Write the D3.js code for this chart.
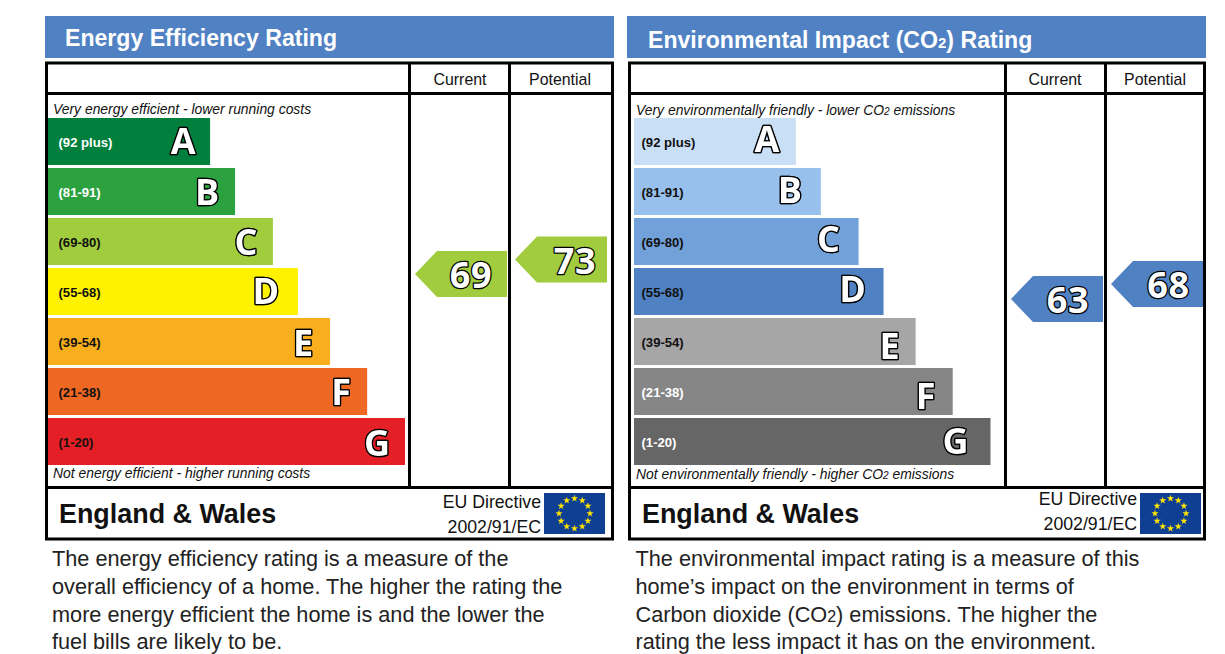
<!DOCTYPE html>
<html lang="en">
<head>
  <meta charset="UTF-8">
  <title>EPC Ratings</title>
  <script src="https://d3js.org/d3.v7.js"></script>
  <style>
    body { margin: 0; background: #fff; }
    svg { display: block; font-family: "Liberation Sans", Arial, sans-serif; }
    .letter, .score {
      font-family: "Open Sans", "DejaVu Sans", sans-serif;
      font-weight: bold;
      fill: #fff;
      stroke: #000;
      paint-order: stroke;
      stroke-linejoin: round;
    }
    .score { letter-spacing: 0.6px; }
    .letter { filter: drop-shadow(0.8px 0.8px 0 #222); }
  </style>
</head>
<body>
  <svg id="chart" width="1225" height="654"></svg>

  <script>
    const bands = ["A", "B", "C", "D", "E", "F", "G"];
    const ranges = ["(92 plus)", "(81-91)", "(69-80)", "(55-68)", "(39-54)", "(21-38)", "(1-20)"];
    // bar length as a share of the longest bar
    const barShare = [45.4, 52.4, 63, 70, 79, 89.4, 100];

    const energyColours = ["#007f3d", "#2ca13f", "#a0cc3e", "#fff200", "#f8ae1d", "#ef6823", "#e51f26"];
    const energyLabels = ["#fff", "#fff", "#111", "#111", "#111", "#111", "#111"];
    const envColours = ["#c9dff5", "#98c0ec", "#72a0d8", "#4f81c3", "#a6a6a6", "#868686", "#666666"];
    const envLabels = ["#111", "#111", "#111", "#111", "#111", "#fff", "#fff"];

    const energyScores = [69, 73];
    const envScores = [63, 68];

    const energyNotes = ["The energy efficiency rating is a measure of the",
      "overall efficiency of a home. The higher the rating the",
      "more energy efficient the home is and the lower the",
      "fuel bills are likely to be."];
    const envNotes = ["The environmental impact rating is a measure of this",
      "home\u2019s impact on the environment in terms of",
      "Carbon dioxide (CO2) emissions. The higher the",
      "rating the less impact it has on the environment."];

    const svg = d3.select("#chart");

    // text with a smaller "2" after CO
    function co2Text(sel, str, scale) {
      const parts = str.split("CO2");
      sel.append("tspan").text(parts[0] + (parts.length > 1 ? "CO" : ""));
      if (parts.length > 1) {
        sel.append("tspan").attr("font-size", scale).text("2");
        sel.append("tspan").text(parts[1]);
      }
    }

    function drawPanel(p) {
      const g = svg.append("g");

      g.append("rect").attr("x", p.x0 - 1).attr("y", 16).attr("width", p.x1 - p.x0 + 2).attr("height", 42).attr("fill", "#4f81c3");
      const title = g.append("text").attr("x", p.titleX).attr("y", p.titleY)
        .attr("fill", "#fff").attr("font-weight", "bold").attr("font-size", 23.1);
      co2Text(title, p.title, 15);

      // frame
      const lines = g.append("g").attr("stroke", "#000").attr("stroke-width", 3).attr("fill", "none");
      lines.append("rect").attr("x", p.frameX).attr("y", 63).attr("width", p.frameW).attr("height", 476);
      lines.append("line").attr("x1", p.frameX).attr("x2", p.frameX + p.frameW).attr("y1", 93.5).attr("y2", 93.5);
      lines.append("line").attr("x1", p.frameX).attr("x2", p.frameX + p.frameW).attr("y1", 487.5).attr("y2", 487.5);
      p.cols.forEach(c => lines.append("line").attr("x1", c).attr("x2", c).attr("y1", 63).attr("y2", 487.5));

      ["Current", "Potential"].forEach((t, i) => {
        g.append("text").attr("x", p.colMid[i]).attr("y", 84.5).attr("text-anchor", "middle")
          .attr("font-size", 15.9).attr("fill", "#111").text(t);
      });

      const top = g.append("text").attr("x", p.noteX).attr("y", p.topY).attr("font-style", "italic").attr("font-size", 13.9).attr("fill", "#111");
      co2Text(top, p.top, 10);
      const bottom = g.append("text").attr("x", p.noteX).attr("y", p.bottomY).attr("font-style", "italic").attr("font-size", 13.9).attr("fill", "#111");
      co2Text(bottom, p.bottom, 10);

      // bars
      const y = d3.scaleBand().domain(bands).range([118, 465]).paddingInner(0.06).paddingOuter(0);
      const x = d3.scaleLinear().domain([0, 100]).range([p.barX, p.barX + p.barMax]);

      const rows = g.selectAll("g.row").data(bands).join("g").attr("class", "row");
      rows.append("rect")
        .attr("x", p.barX)
        .attr("y", d => y(d))
        .attr("width", (d, i) => x(barShare[i]) - p.barX)
        .attr("height", y.bandwidth())
        .attr("fill", (d, i) => p.colours[i]);
      rows.append("text")
        .attr("x", p.barX + p.labelInset)
        .attr("y", d => y(d) + y.bandwidth() / 2 + 5)
        .attr("font-size", 13.1)
        .attr("font-weight", "bold")
        .attr("fill", (d, i) => p.labels[i])
        .text((d, i) => ranges[i]);
      rows.append("text")
        .attr("class", "letter")
        .attr("x", (d, i) => x(barShare[i]) - p.letterInset[i])
        .attr("y", (d, i) => y(d) + y.bandwidth() / 2 + 13 + p.letterDy[i])
        .attr("text-anchor", "middle")
        .attr("font-size", 36)
        .attr("stroke-width", 2.6)
        .text(d => d);

      // score arrows
      p.scores.forEach((v, i) => {
        const cy = p.scoreY(v);
        const right = p.arrowRight[i];
        const pts = [[right - 92, cy], [right - 70, cy - 23], [right, cy - 23], [right, cy + 23], [right - 70, cy + 23]];
        g.append("path").attr("d", d3.line()(pts) + "Z").attr("fill", p.arrowColour);
        g.append("text").attr("class", "score")
          .attr("x", right - p.scoreInset[i]).attr("y", cy + 14).attr("text-anchor", "middle")
          .attr("font-size", 36).attr("stroke-width", 2.6).text(v);
      });

      // footer
      g.append("text").attr("x", p.footX).attr("y", 523).attr("font-weight", "bold").attr("font-size", 26.9).attr("fill", "#111").text("England & Wales");
      g.append("text").attr("x", p.flagX - 3).attr("y", p.directiveY).attr("text-anchor", "end").attr("font-size", 17.7).attr("fill", "#111").text("EU Directive");
      g.append("text").attr("x", p.flagX - 3).attr("y", p.directiveY + 25).attr("text-anchor", "end").attr("font-size", 17.7).attr("fill", "#111").text("2002/91/EC");

      g.append("rect").attr("x", p.flagX).attr("y", 493).attr("width", 61).attr("height", 41).attr("fill", "#0f3f93");
      const star = d3.symbol().type(d3.symbolStar).size(16);
      d3.range(12).forEach(k => {
        const a = k * Math.PI / 6;
        g.append("path").attr("d", star)
          .attr("fill", "#ffe500")
          .attr("transform", `translate(${p.flagX + 30.5 + 15.5 * Math.sin(a)},${513.5 - 15 * Math.cos(a)})`);
      });

      // explanation under the panel
      p.notes.forEach((line, i) => {
        const t = g.append("text").attr("x", p.textX).attr("y", 566.3 + i * 27.6).attr("font-size", 21.7).attr("fill", "#222");
        co2Text(t, line, 16);
      });
    }

    drawPanel({
      x0: 46, x1: 613, frameX: 46.5, frameW: 566, cols: [409.5, 509.5], colMid: [460, 560],
      title: "Energy Efficiency Rating", titleX: 65, titleY: 46,
      top: "Very energy efficient - lower running costs", topY: 114,
      bottom: "Not energy efficient - higher running costs", bottomY: 478, noteX: 53,
      barX: 48, barMax: 357, labelInset: 10.5, colours: energyColours, labels: energyLabels,
      letterInset: [27, 28, 27, 32, 27, 26, 28], letterDy: [-0.5, 0, 0, -1, 1.5, 0.5, 1],
      scores: energyScores, arrowRight: [507, 607], arrowColour: "#a0cc3e", scoreInset: [36, 32],
      scoreY: d3.scaleLinear().domain([69, 73]).range([274, 259.5]),
      footX: 59, flagX: 544, directiveY: 508, textX: 52, notes: energyNotes
    });

    drawPanel({
      x0: 628, x1: 1205, frameX: 629.5, frameW: 575, cols: [1005.5, 1105.5], colMid: [1055, 1155],
      title: "Environmental Impact (CO2) Rating", titleX: 648, titleY: 48,
      top: "Very environmentally friendly - lower CO2 emissions", topY: 115,
      bottom: "Not environmentally friendly - higher CO2 emissions", bottomY: 479, noteX: 636,
      barX: 634, barMax: 356.5, labelInset: 7.5, colours: envColours, labels: envLabels,
      letterInset: [29, 31, 30, 31, 26, 27, 35], letterDy: [-2.5, -1.5, -2.5, -2.5, 4.5, 4.5, -0.5],
      scores: envScores, arrowRight: [1103, 1203], arrowColour: "#4f81c3", scoreInset: [35, 34.5],
      scoreY: d3.scaleLinear().domain([63, 68]).range([299, 284]),
      footX: 642, flagX: 1140, directiveY: 504.5, textX: 635.5, notes: envNotes
    });
  </script>
</body>
</html>
